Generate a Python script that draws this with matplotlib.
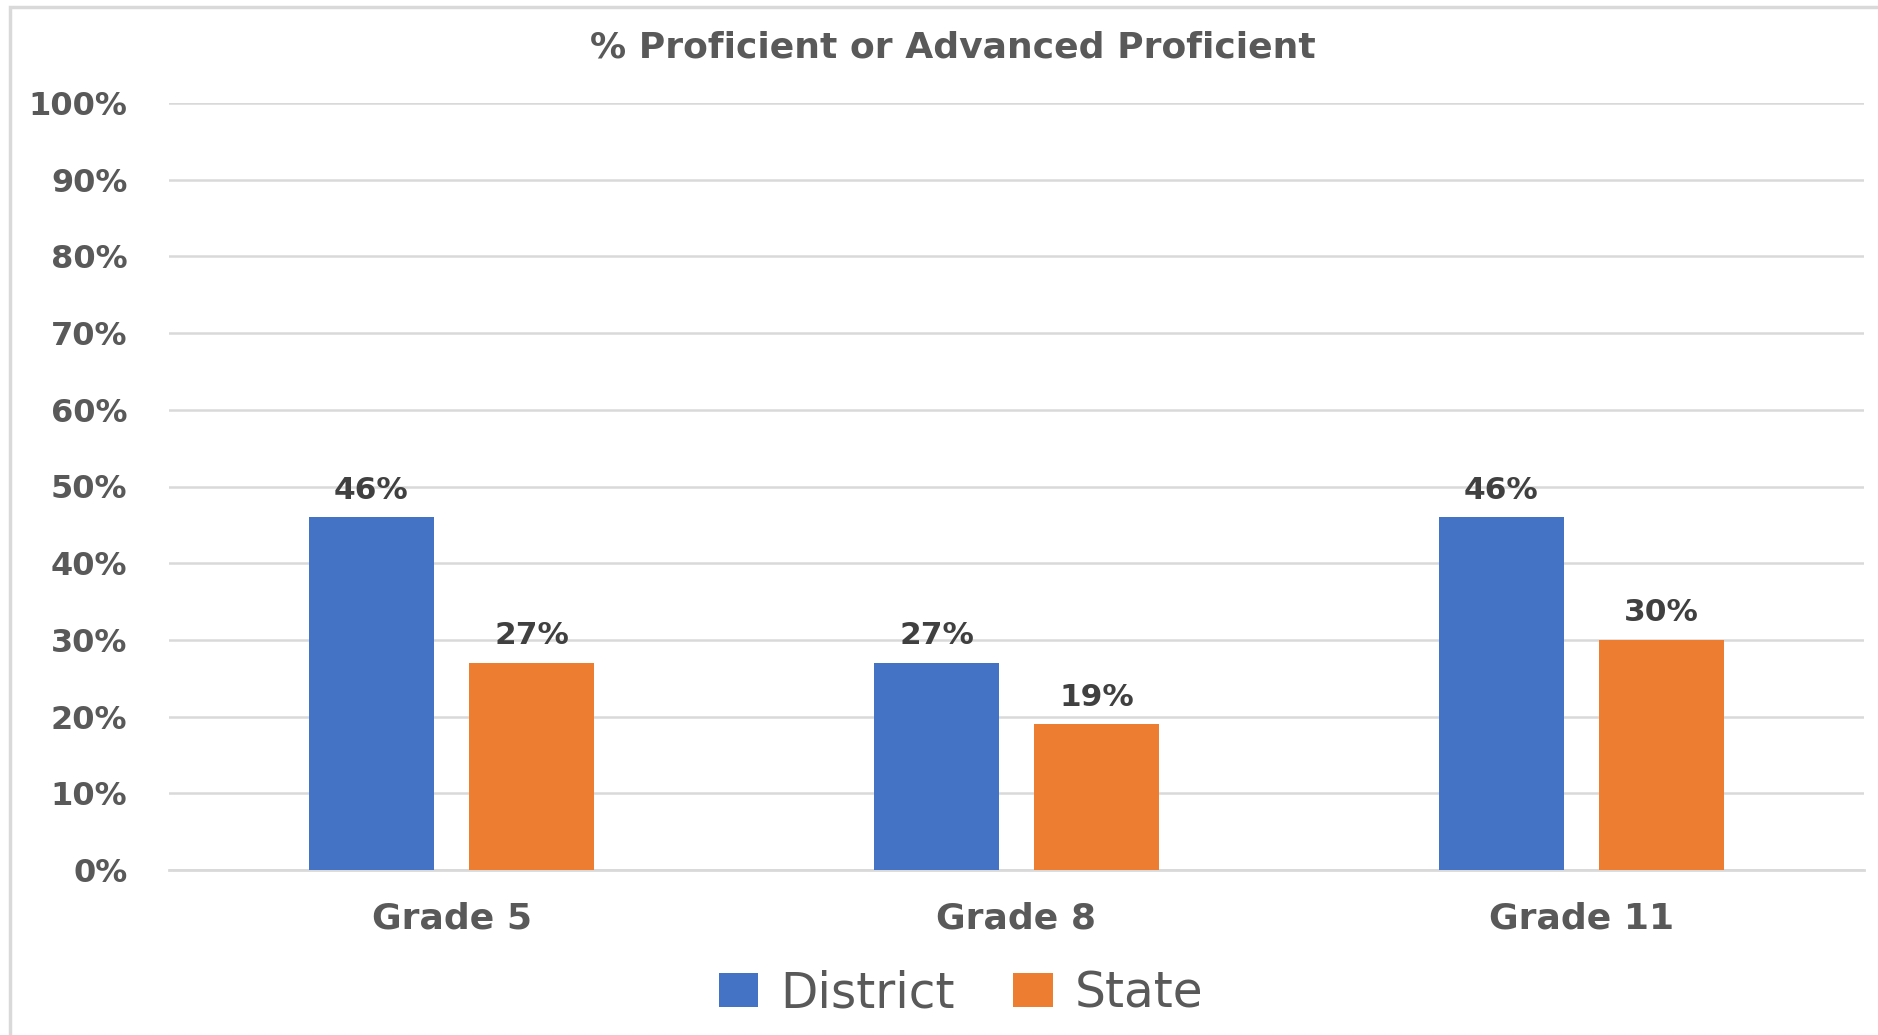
import matplotlib
matplotlib.use('Agg')
import matplotlib.pyplot as plt
import numpy as np
from matplotlib.patches import Rectangle

plt.rcParams['font.family'] = ['DejaVu Sans']

# data
grades = ['Grade 5', 'Grade 8', 'Grade 11']
district = [46, 27, 46]
state = [27, 19, 30]
series_names = ['District', 'State']
y_ticks = [0, 10, 20, 30, 40, 50, 60, 70, 80, 90, 100]

BLUE = '#4472C4'
ORANGE = '#ED7D31'
TEXT = '#595959'
GRID = '#D9D9D9'

fig = plt.figure(figsize=(18.78, 10.35), dpi=100)
fig.patch.set_facecolor('white')

# chart frame (only top/left edges visible, rest runs off the image)
fig.patches.append(Rectangle((10 / 1878, -0.05), 1.2, (1035 - 7) / 1035 + 0.05,
                             transform=fig.transFigure, fill=False,
                             edgecolor=GRID, linewidth=2.5))

ax = fig.add_axes([169 / 1878, 165 / 1035, (1864 - 169) / 1878, (870 - 103) / 1035])

x = np.arange(len(grades))
w = 0.221
off = 0.1416
b1 = ax.bar(x - off, district, width=w, color=BLUE, label=series_names[0], zorder=3)
b2 = ax.bar(x + off, state, width=w, color=ORANGE, label=series_names[1], zorder=3)

for bars in (b1, b2):
    for bar in bars:
        h = bar.get_height()
        ax.annotate(f'{h:.0f}%', xy=(bar.get_x() + bar.get_width() / 2, h),
                    xytext=(0, 9), textcoords='offset points',
                    ha='center', va='bottom', fontsize=22.5, fontweight='bold', color='#404040')

ax.set_xlim(-0.5, 2.5)
ax.set_ylim(0, 100)
ax.set_yticks(y_ticks)
ax.set_yticklabels([f'{t}%' for t in y_ticks], fontsize=23, fontweight='bold', color=TEXT)
ax.set_xticks(x)
ax.set_xticklabels(grades, fontsize=26, fontweight='bold', color=TEXT)
ax.tick_params(axis='y', length=0, pad=30)
ax.tick_params(axis='x', length=0, pad=23)
ax.grid(axis='y', color=GRID, linewidth=1.8, zorder=0)
for s in ['top', 'right', 'left']:
    ax.spines[s].set_visible(False)
ax.spines['bottom'].set_color(GRID)
ax.spines['bottom'].set_linewidth(2)

fig.text(953 / 1878, 1 - 47 / 1035, '% Proficient or Advanced Proficient',
         ha='center', va='center', fontsize=26, fontweight='bold', color=TEXT)

leg = fig.legend(loc='center', bbox_to_anchor=(961 / 1878, 42 / 1035), ncol=2,
                 frameon=False, fontsize=35, handlelength=0.82, handleheight=0.68,
                 handletextpad=0.45, columnspacing=1.2)
for t in leg.get_texts():
    t.set_color(TEXT)

plt.savefig('out.png', dpi=100)
